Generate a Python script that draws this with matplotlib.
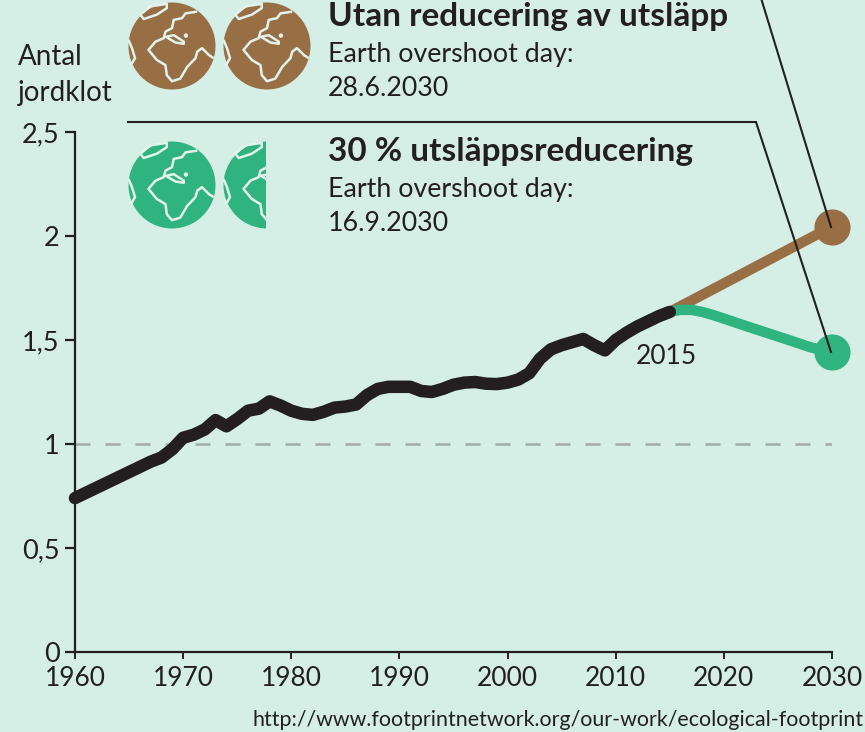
import matplotlib
matplotlib.use("Agg")
import matplotlib.pyplot as plt
from matplotlib.patches import Circle, Polygon, Rectangle

plt.rcParams["font.family"] = ["Lato", "DejaVu Sans"]

years = list(range(1960, 2016))
antal = [0.74, 0.765, 0.79, 0.815, 0.84, 0.865, 0.89, 0.915, 0.935, 0.975,
         1.03, 1.045, 1.07, 1.115, 1.085, 1.12, 1.16, 1.17, 1.205, 1.185,
         1.16, 1.145, 1.14, 1.155, 1.175, 1.18, 1.19, 1.235, 1.265, 1.275,
         1.275, 1.275, 1.255, 1.25, 1.265, 1.285, 1.295, 1.298, 1.29, 1.288,
         1.295, 1.31, 1.34, 1.41, 1.455, 1.475, 1.49, 1.505, 1.475, 1.45,
         1.5, 1.535, 1.565, 1.59, 1.615, 1.635]

brun_years = [2015, 2030]
brun = [1.635, 2.045]
gron_years = [2015, 2016, 2017, 2018, 2019, 2020, 2022, 2024, 2026, 2028, 2030]
gron = [1.635, 1.645, 1.645, 1.635, 1.62, 1.603, 1.568, 1.534, 1.5, 1.465, 1.44]

x_ticks = [1960, 1970, 1980, 1990, 2000, 2010, 2020, 2030]
y_ticks = [0, 0.5, 1, 1.5, 2, 2.5]
y_labels = ["0", "0,5", "1", "1,5", "2", "2,5"]

BG = "#d5efe6"
BRUN = "#986e45"
GRON = "#2fb47f"
SVART = "#231f20"
W, H = 865, 732

fig = plt.figure(figsize=(W / 100, H / 100), dpi=100, facecolor=BG)
ax = fig.add_axes([75 / W, 1 - 652 / H, (832 - 75) / W, (652 - 132) / H])
ax.set_facecolor("none")
ax.set_xlim(1960, 2030)
ax.set_ylim(0, 2.5)
ax.spines["top"].set_visible(False)
ax.spines["right"].set_visible(False)
ax.spines["left"].set_linewidth(1.6)
ax.spines["bottom"].set_linewidth(1.6)
ax.spines["left"].set_color(SVART)
ax.spines["bottom"].set_color(SVART)
ax.set_xticks(x_ticks)
ax.set_yticks(y_ticks)
ax.set_yticklabels(y_labels)
ax.tick_params(axis="x", length=5, width=1.4, color=SVART, labelsize=19, labelcolor=SVART, pad=5)
ax.tick_params(axis="y", length=7, width=1.6, color=SVART, labelsize=19.5, labelcolor=SVART, pad=4)

ax.axhline(1, color="#a0aca6", lw=1.8, dashes=(6, 6), zorder=1)
ax.plot(brun_years, brun, color=BRUN, lw=7.5, zorder=2, clip_on=False)
ax.plot(brun_years[-1], brun[-1], "o", color=BRUN, ms=26, mew=0, zorder=2, clip_on=False)
ax.plot(gron_years, gron, color=GRON, lw=7.5, zorder=3, clip_on=False)
ax.plot(gron_years[-1], gron[-1], "o", color=GRON, ms=26, mew=0, zorder=3, clip_on=False)
ax.plot(years, antal, color=SVART, lw=9, zorder=4, solid_capstyle="round",
        solid_joinstyle="round", clip_on=False)
ax.text(2014.7, 1.42, "2015", fontsize=19, color=SVART, ha="center", va="center")

# overlay in pixels for the infographic bits
ov = fig.add_axes([0, 0, 1, 1])
ov.set_xlim(0, W)
ov.set_ylim(H, 0)
ov.axis("off")
ov.patch.set_alpha(0)

# shapes relative to the globe centre, globe radius = 1
eurafrika = [(0.58, -0.79), (0.31, -0.75), (0.23, -0.64), (0.04, -0.60), (0, -0.41), (-0.15, -0.33),
             (-0.19, -0.18), (-0.38, -0.10), (-0.54, 0.09), (-0.35, 0.32), (-0.15, 0.44), (-0.12, 0.67),
             (0, 0.81), (0.19, 0.75), (0.35, 0.48), (0.54, 0.28), (0.58, 0.13), (0.69, 0.05),
             (0.85, 0.21), (0.96, 0.28)]
gronland = [(-0.73, -0.72), (-0.5, -0.91), (-0.12, -0.97), (-0.12, -0.87), (-0.35, -0.72), (-0.65, -0.62)]
medelhav = [(-0.14, -0.21), (0.04, -0.25), (0.27, -0.10), (0.27, -0.05), (0.08, -0.08)]
amerika = [(-1, -0.14), (-0.92, 0.05), (-0.85, 0.28), (-0.92, 0.4), (-0.98, 0.44)]


def globe(cx, cy, color, r=43.5):
    ov.add_patch(Circle((cx, cy), r, color=color, lw=0, zorder=2))
    for pts, closed in [(eurafrika, False), (gronland, True), (medelhav, True), (amerika, False)]:
        xy = [(cx + a * r, cy + b * r) for a, b in pts]
        ov.add_patch(Polygon(xy, closed=closed, fill=False, ec="#e4f3ec", lw=1.8, zorder=3,
                             joinstyle="round"))
    ov.add_patch(Circle((cx + 0.32 * r, cy - 0.24 * r), 2.2, color="#e4f3ec", lw=0, zorder=3))


globe(172, 46, BRUN)
globe(267, 46, BRUN)
globe(172, 185, GRON)
globe(267, 185, GRON)
ov.add_patch(Rectangle((266, 135), 56, 100, color=BG, lw=0, zorder=4))
ov.add_patch(Rectangle((120, 0), 8, 240, color=BG, lw=0, zorder=4))

ov.plot([128, 756, 831], [122, 122, 352], color=SVART, lw=1.5, zorder=6, solid_joinstyle="miter")
ov.plot([761, 831], [-2, 227], color=SVART, lw=1.5, zorder=6)

ov.text(18, 65, "Antal", fontsize=20, color=SVART, va="baseline")
ov.text(18, 101, "jordklot", fontsize=20, color=SVART, va="baseline")

ov.text(328, 26, "Utan reducering av utsläpp", fontsize=24, fontweight="bold", color=SVART, va="baseline")
ov.text(328, 62, "Earth overshoot day:", fontsize=19.3, color=SVART, va="baseline")
ov.text(328, 96, "28.6.2030", fontsize=19.3, color=SVART, va="baseline")
ov.text(328, 161, "30 % utsläppsreducering", fontsize=24, fontweight="bold", color=SVART, va="baseline")
ov.text(328, 197, "Earth overshoot day:", fontsize=19.3, color=SVART, va="baseline")
ov.text(328, 231, "16.9.2030", fontsize=19.3, color=SVART, va="baseline")

ov.text(253, 726, "http://www.footprintnetwork.org/our-work/ecological-footprint", fontsize=15.4,
        color=SVART, va="baseline")

fig.savefig("out.png", dpi=100, facecolor=BG)
